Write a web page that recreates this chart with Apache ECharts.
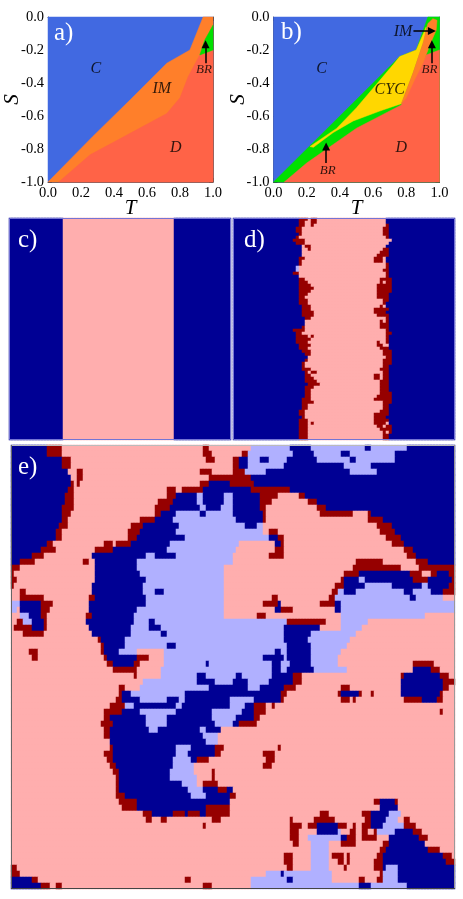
<!DOCTYPE html>
<html>
<head>
<meta charset="utf-8">
<style>html,body{margin:0;padding:0;background:#fff}#chart{width:463px;height:899px}</style>
<script src="https://cdn.jsdelivr.net/npm/echarts@6/dist/echarts.min.js"></script>
</head>
<body>
<div id="chart"></div>
<script>
// phase diagram a), [T, S]
var aOrange = [[0,-1],[0.27,-0.725],[0.5,-0.5],[0.72,-0.28],[0.86,-0.2],[0.94,0],[1,0],[1,-0.2],[1,-1],[0.065,-1]];
var aRed = [[0.065,-1],[0.255,-0.835],[0.405,-0.755],[0.72,-0.585],[0.8,-0.49],[0.85,-0.36],[0.92,-0.23],[1,-0.2],[1,-1]];
var aGreen = [[0.92,-0.23],[0.95,-0.14],[1,-0.05],[1,-0.2]];

// phase diagram b)
var bGreen = [[0,-1],[0.72,-0.28],[0.76,-0.24],[0.86,-0.2],[0.93,0],[1,0],[1,-0.2],[1,-1],[0.065,-1]];
var bRed = [[0.065,-1],[0.2,-0.885],[0.5,-0.674],[0.77,-0.533],[0.85,-0.36],[0.92,-0.23],[1,-0.2],[1,-1]];
var bYellow = [[0.22,-0.785],[0.38,-0.675],[0.5,-0.55],[0.72,-0.29],[0.76,-0.24],[0.86,-0.2],[0.92,-0.06],[0.91,-0.13],[0.84,-0.34],[0.77,-0.525],[0.64,-0.57],[0.48,-0.63],[0.36,-0.7],[0.24,-0.79]];
var bOrange = [[0.77,-0.525],[0.84,-0.34],[0.9,-0.16],[0.93,-0.04],[0.96,-0.01],[0.985,-0.02],[0.98,-0.08],[0.95,-0.15],[0.9,-0.28],[0.85,-0.38],[0.8,-0.49]];

var aLabels = [['C',0.29,-0.315],['IM',0.69,-0.437],['D',0.775,-0.79]];
var aSmall = [['BR',0.945,-0.318]];
var aArrows = [[0.955,-0.28,0.955,-0.165]];
var bLabels = [['C',0.29,-0.315],['CYC',0.70,-0.44],['D',0.77,-0.79],['IM',0.78,-0.087]];
var bSmall = [['BR',0.94,-0.318],['BR',0.327,-0.93]];
var bArrows = [[0.843,-0.085,0.954,-0.085],[0.954,-0.28,0.954,-0.165],[0.317,-0.885,0.317,-0.785]];

// lattice snapshots, each row lists colour + column where that run ends
var cRows = ["B18 P55 B74"];

var dRows = [
"B22 R25 P26 R28 P51 B74","B22 R24 P26 R28 P51 B74","B22 R24 P26 R27 P51 R52 B74","B21 R23 P50 R52 B74",
"B21 R23 P50 R52 B74","B22 R23 P50 R52 B74","B21 R22 P51 R52 B74","B20 R24 P53 B74",
"B21 R24 P52 B74","B23 P24 R26 P51 B74","B23 P25 R26 P50 R52 B74","B23 P49 R52 B74",
"B23 P48 R52 B74","B22 R24 P47 R50 P51 B74","B22 R23 P47 R50 P51 B74","B22 R23 P51 R52 B74",
"B21 L22 P51 R52 B74","B21 L22 P50 R52 B74","B20 R22 P51 R52 B74","B22 P51 R52 B74",
"B22 R24 P49 R51 P51 R53 B74","B22 R25 P49 R50 P51 R53 B74","B22 R26 P48 R53 B74","B22 R27 P48 R53 B74",
"B22 R26 P48 R53 B74","B22 R25 P48 R52 B74","B22 R24 P48 R52 B74","B22 R25 P50 R52 B74",
"B22 R25 P50 R51 B74","B23 R26 P49 R50 P51 B74","B23 R26 P47 R52 B74","B23 R27 P47 R51 B74",
"B23 R27 P48 R52 B74","B24 R26 P51 R52 B74","B24 P49 R50 P51 R52 B74","B24 P49 R51 P51 R52 B74",
"B23 R24 P49 R52 B74","B20 R24 P51 R52 B74","B21 R23 P51 R53 B74","B21 R25 P26 R27 P51 R52 B74",
"B21 R26 P51 R52 B74","B21 R25 P48 R49 P51 R52 B74","B22 R26 P48 R50 P52 B74","B22 R25 P49 R52 B74",
"B23 R26 P50 R53 B74","B24 R26 P50 R53 B74","B25 P51 R53 B74","B24 R25 P50 R53 B74",
"B23 R24 P50 R53 B74","B23 R24 P50 R52 B74","B23 R26 P49 R52 B74","B24 R25 P26 R28 P50 R52 B74",
"B24 R26 P47 R49 P50 R52 B74","B24 R27 P47 R49 P50 R52 B74","B24 R28 P49 R52 B74","B25 R29 P49 R52 B74",
"B24 R27 P49 R52 B74","B24 R26 P49 R52 B74","B24 R26 P49 R53 B74","B24 R26 P48 R50 P50 R53 B74",
"B23 R26 P47 R53 B74","B23 R27 P50 R53 B74","B23 R25 P50 R52 B74","B23 R25 P50 R52 B74",
"B22 R24 P49 R52 B74","B22 R24 P47 R52 B74","B23 R24 P47 R51 B74","B22 R25 P47 R52 B74",
"B22 R25 P26 R27 P47 R51 P52 B74","B22 R25 P48 R50 P51 R53 B74","B22 R25 P49 R52 P52 R53 B74","B22 R25 P50 R51 P52 R53 B74",
"B22 R25 P50 R52 B74","B22 R25 P50 R52 B74"
];

var eRows = [
"B12 R17 P64 R66 P80 L93 B100 L118 B120 L132 B148",
"B12 R17 P64 R67 P77 R79 L94 B101 L110 B113 L128 B148",
"B17 R20 P65 R68 P74 R76 B79 L83 B86 L92 B102 L113 B115 L128 B148",
"B17 R20 P74 R76 B79 L91 B111 L120 B148",
"B19 P22 R24 P63 R67 P74 R78 L85 B113 L122 B148",
"B20 P22 R24 P66 R80 B148",
"B20 R21 P22 R23 P63 R66 B73 R81 B148",
"B19 R21 P52 R55 P57 R64 B80 R93 B148",
"B18 R21 P52 R55 B62 L64 B71 L74 B83 R89 P96 R98 B148",
"B18 R21 P49 R54 B62 L64 B71 L74 B83 R87 P99 R102 B148",
"B17 R21 P48 R53 B63 L65 B70 L74 B83 R85 P102 R105 B148",
"B17 R20 P48 R50 B55 L63 B65 L74 B84 R85 P103 R114 P119 R120 B148",
"B17 R19 P43 R48 B54 L75 B84 R85 P119 R124 B148",
"B16 R19 P40 R44 B56 L78 B82 L84 P122 R127 B148",
"B15 R17 P39 R43 B55 L84 P86 R89 P123 R128 B148",
"B15 R17 P39 R42 B58 L86 B89 R91 P125 R130 B148",
"B12 R14 P31 R34 P35 R40 B53 L76 P88 B90 R91 P127 R131 B148",
"B10 R15 P28 R34 B52 L75 P88 R91 P131 R134 B148",
"B7 R11 P27 B45 L48 B55 L74 P86 R91 P132 R135 B148",
"B3 R8 P24 R26 P28 B42 L74 P115 R124 P135 R139 B148",
"R3 P28 B42 L71 P114 R130 P136 R148",
"R1 P28 B43 L71 P111 R116 B133 R137 P140 R142 B146 R148",
"R2 P28 B45 L71 P110 R111 B116 L118 B134 R139 B147 R148",
"R1 P27 B44 L71 P108 R111 B118 L127 B137 L139 B146 R148",
"P3 R5 P27 B44 L48 B51 L71 P107 R109 L111 B115 L131 B134 L140 B144 R148",
"P3 R11 P26 R28 B45 L71 P87 R89 P106 R108 L133 B135 L144 P148",
"L3 B10 R14 P26 B45 L71 P84 R89 B90 P103 R108 B110 L148",
"L2 P3 B10 R13 P26 B42 L71 P88 B90 R94 P108 B110 L148",
"P3 L6 B10 R12 P25 R27 B41 L71 P82 R85 P110 L138 P148",
"P2 R4 L7 B11 R12 P25 B41 L46 B48 L92 R105 P110 L119 P148",
"P1 R7 B11 R12 P26 B40 L46 B50 L91 B103 P110 L117 P148",
"P4 R11 P27 B40 L50 B52 L91 B100 L115 P148",
"P29 R30 B38 L91 B99 L113 P148",
"P30 R31 B38 L52 B55 L92 B100 L112 P148",
"P6 R9 P30 R31 B36 L42 P51 L88 B90 L92 B100 L110 P148",
"P7 R9 P31 R32 B42 R46 P51 L84 B91 L92 B100 L109 P148",
"P32 R34 B41 R43 P51 L65 B66 L87 B90 L93 B100 L109 P134 R141 P148",
"P34 R42 P50 L87 B90 L92 B101 L112 P134 B140 R143 P148",
"P41 R42 P50 L62 B65 L75 B77 L87 B94 R97 P130 R131 B143 R146 P148",
"P44 L62 B68 L74 B79 L86 B94 R97 P130 B144 R148",
"P36 R38 P43 L66 B79 L83 B91 R95 P110 R113 P130 B144 R146 P148",
"P36 R37 B40 L58 B90 R92 P109 R110 B116 R117 P120 R121 P130 B143 R144 P148",
"P35 R37 B43 L52 B56 L58 B73 L81 B90 R91 P110 R113 P114 R115 P131 R137 B142 R144 P148",
"P33 R38 L41 B55 L57 B73 L78 B81 R85 P87 R88 P148",
"P31 R37 B43 L55 B67 L77 B81 R85 P143 R144 P148",
"P31 R33 B45 L52 B67 L75 B81 R83 P148",
"P30 R34 B45 L52 B68 L74 B76 R82 P148",
"P31 R33 B46 L49 B63 L65 B70 P148",
"P31 R33 B64 L69 P148",
"P33 B65 L69 P148",
"P33 R34 B55 L60 B68 R71 P89 R90 P148",
"P31 R34 B55 L59 B68 R70 P84 R88 P148",
"P32 R34 B54 L60 B62 R66 P85 R88 P148",
"P33 R35 B54 L61 P84 R87 P148",
"P34 R36 B53 L61 P67 R68 P148",
"P35 R36 B53 L62 P67 R68 P148",
"P35 R36 B57 L62 P64 R69 P148",
"P35 R36 B59 L64 B69 R72 B74 P148",
"P35 R38 B60 L65 B73 R75 P148",
"P36 R42 B73 P121 R123 B128 R129 P148",
"P37 R42 B65 R73 P123 B129 P148",
"P44 R47 B54 R58 B59 R63 B65 R73 P103 R106 P117 R120 B126 L130 P148",
"P45 R47 P50 R52 P67 R70 P93 R94 P101 R108 P118 R120 B125 L129 P131 R133 P148",
"P64 R65 P93 R97 P99 R102 B109 R112 P114 R115 P117 R120 B124 L131 R135 P148",
"P93 R96 P102 B109 L110 P113 R115 P117 R119 P121 R122 L128 B134 R137 P148",
"P93 R96 P99 L110 B112 R115 P117 R119 R122 P126 B136 R139 P148",
"P94 R96 P100 L106 P110 R115 P124 R126 B138 P148",
"P100 L106 P123 R125 B139 R143 P148",
"P91 R94 P100 L106 P107 R111 P112 R113 P122 R124 B144 R147 P148",
"P91 R94 P100 L106 P109 R111 P112 R113 P121 R124 B145 R148",
"R2 P92 R94 P100 L106 P111 R112 P121 R124 B125 L129 B148",
"R3 P85 L90 B91 L107 P123 R124 L129 B148",
"B7 R9 P58 R60 P80 L92 B94 L107 P116 R118 P122 R124 L129 B148",
"B10 R13 P15 R17 P64 R67 P80 L116 B120 L132 B148"
];

var cellCodes = { B: 0, P: 1, R: 2, L: 3 };
var cellColors = ['#000094', '#ffaeae', '#960000', '#b0b0ff'];

function expandRows(rows) {
    var out = [];
    for (var r = 0; r < rows.length; r++) {
        var runs = rows[r].split(' ');
        var col = 0;
        for (var i = 0; i < runs.length; i++) {
            var code = cellCodes[runs[i].charAt(0)];
            var end = parseInt(runs[i].substring(1));
            for (; col < end; col++) {
                out.push([col, r, code]);
            }
        }
    }
    return out;
}

function indexList(n) {
    var list = [];
    for (var i = 0; i < n; i++) list.push(i);
    return list;
}

function regionSeries(points, color, idx) {
    return {
        type: 'custom',
        xAxisIndex: idx,
        yAxisIndex: idx,
        silent: true,
        animation: false,
        data: points,
        renderItem: function (params, api) {
            if (params.dataIndex !== 0) return null;
            return {
                type: 'polygon',
                shape: { points: points.map(function (p) { return api.coord(p); }) },
                style: { fill: color, stroke: color, lineWidth: 0.5 }
            };
        }
    };
}

function labelSeries(items, size, arrows, idx) {
    var s = {
        type: 'scatter',
        xAxisIndex: idx,
        yAxisIndex: idx,
        silent: true,
        symbolSize: 1,
        itemStyle: { color: 'transparent' },
        label: {
            show: true, position: 'inside', formatter: '{b}', color: '#000',
            fontFamily: 'Liberation Serif', fontStyle: 'italic', fontSize: size
        },
        data: items.map(function (d) { return { name: d[0], value: [d[1], d[2]] }; })
    };
    if (arrows) {
        s.markLine = {
            silent: true, animation: false, symbol: ['none', 'triangle'], symbolSize: 8,
            lineStyle: { color: '#000', width: 1.5, type: 'solid' },
            label: { show: false },
            data: arrows.map(function (a) {
                return [{ coord: [a[0], a[1]] }, { coord: [a[2], a[3]] }];
            })
        };
    }
    return s;
}

function phaseX(grid, pos, main) {
    return {
        type: 'value', gridIndex: grid, position: pos, min: 0, max: 1, interval: 0.2,
        name: main ? 'T' : '', nameLocation: 'middle', nameGap: 16, nameMoveOverlap: false,
        nameTextStyle: { fontFamily: 'Liberation Serif', fontStyle: 'italic', fontSize: 21, color: '#000' },
        splitLine: { show: false },
        axisLine: { show: true, onZero: false, lineStyle: { color: '#555', width: 1 } },
        axisTick: { show: true, inside: true, length: 4, lineStyle: { color: '#333' } },
        axisLabel: {
            show: main, margin: 4, color: '#000', fontFamily: 'Liberation Serif', fontSize: 14.5,
            formatter: function (v) { return v.toFixed(1); }
        }
    };
}

function phaseY(grid, pos, main, gap) {
    return {
        type: 'value', gridIndex: grid, position: pos, min: -1, max: 0, interval: 0.2,
        name: main ? 'S' : '', nameLocation: 'middle', nameGap: gap, nameMoveOverlap: false,
        nameTextStyle: { fontFamily: 'Liberation Serif', fontStyle: 'italic', fontSize: 21, color: '#000' },
        splitLine: { show: false },
        axisLine: { show: true, onZero: false, lineStyle: { color: '#555', width: 1 } },
        axisTick: { show: true, inside: true, length: 4, lineStyle: { color: '#333' } },
        axisLabel: {
            show: main, margin: 4, color: '#000', fontFamily: 'Liberation Serif', fontSize: 14.5,
            formatter: function (v) { return v.toFixed(1); }
        }
    };
}

function latticeX(grid, n) {
    return { type: 'category', gridIndex: grid, data: indexList(n), show: false };
}
function latticeY(grid, n) {
    return { type: 'category', gridIndex: grid, data: indexList(n), inverse: true, show: false };
}
function latticeSeries(rows, idx) {
    return {
        type: 'heatmap', xAxisIndex: idx, yAxisIndex: idx, silent: true,
        progressive: 0, animation: false, data: expandRows(rows)
    };
}

function panelText(text, x, y) {
    return {
        type: 'text', x: x, y: y, z: 50,
        style: { text: text, fill: '#fff', font: '25px "Liberation Serif"' }
    };
}
function panelFrame(x, y, w, h, color) {
    return {
        type: 'rect', z: 49, shape: { x: x, y: y, width: w, height: h },
        style: { fill: 'transparent', stroke: color, lineWidth: 1 }
    };
}
function frameEdge(x1, y1, x2, y2, color) {
    return {
        type: 'line', z: 49, shape: { x1: x1, y1: y1, x2: x2, y2: y2 },
        style: { stroke: color, lineWidth: 1 }
    };
}

var chart = echarts.init(document.getElementById('chart'), null, { renderer: 'canvas' });

chart.setOption({
    animation: false,
    backgroundColor: '#fff',
    grid: [
        { left: 48, top: 17, width: 165, height: 165, outerBoundsMode: 'none' },
        { left: 273.5, top: 17, width: 166, height: 165, outerBoundsMode: 'none' },
        { left: 9, top: 218, width: 222, height: 222, outerBoundsMode: 'none' },
        { left: 233, top: 218, width: 222, height: 222, outerBoundsMode: 'none' },
        { left: 11, top: 445, width: 444, height: 444, outerBoundsMode: 'none' }
    ],
    xAxis: [
        phaseX(0, 'bottom', true), phaseX(1, 'bottom', true),
        latticeX(2, 74), latticeX(3, 74), latticeX(4, 148),
        phaseX(0, 'top', false), phaseX(1, 'top', false)
    ],
    yAxis: [
        phaseY(0, 'left', true, 25), phaseY(1, 'left', true, 25),
        latticeY(2, cRows.length), latticeY(3, dRows.length), latticeY(4, eRows.length),
        phaseY(0, 'right', false, 0), phaseY(1, 'right', false, 0)
    ],
    visualMap: {
        type: 'piecewise', show: false, dimension: 2, seriesIndex: [13, 14, 15],
        pieces: [
            { value: 0, color: cellColors[0] }, { value: 1, color: cellColors[1] },
            { value: 2, color: cellColors[2] }, { value: 3, color: cellColors[3] }
        ]
    },
    series: [
        regionSeries([[0,-1],[0,0],[1,0],[1,-1]], '#4169e1', 0),
        regionSeries(aOrange, '#ff7f2a', 0),
        regionSeries(aRed, '#ff6347', 0),
        regionSeries(aGreen, '#00e000', 0),
        labelSeries(aLabels, 16, null, 0),
        labelSeries(aSmall, 13, aArrows, 0),
        regionSeries([[0,-1],[0,0],[1,0],[1,-1]], '#4169e1', 1),
        regionSeries(bGreen, '#00e000', 1),
        regionSeries(bRed, '#ff6347', 1),
        regionSeries(bYellow, '#ffd700', 1),
        regionSeries(bOrange, '#ff7f2a', 1),
        labelSeries(bLabels, 16, null, 1),
        labelSeries(bSmall, 13, bArrows, 1),
        latticeSeries(cRows, 2),
        latticeSeries(dRows, 3),
        latticeSeries(eRows, 4)
    ],
    graphic: [
        panelFrame(9.5, 218.5, 221, 221, '#7474d4'),
        panelFrame(233.5, 218.5, 221, 221, '#7474d4'),
        frameEdge(11, 445.5, 455, 445.5, '#bbbbbb'),
        frameEdge(454.5, 445, 454.5, 889, '#999999'),
        frameEdge(11.5, 445, 11.5, 889, '#666666'),
        frameEdge(11, 888.5, 455, 888.5, '#444444'),
        panelText('a)', 54, 21),
        panelText('b)', 281, 20),
        panelText('c)', 18, 228),
        panelText('d)', 244, 228),
        panelText('e)', 18, 455)
    ]
});
</script>
</body>
</html>
